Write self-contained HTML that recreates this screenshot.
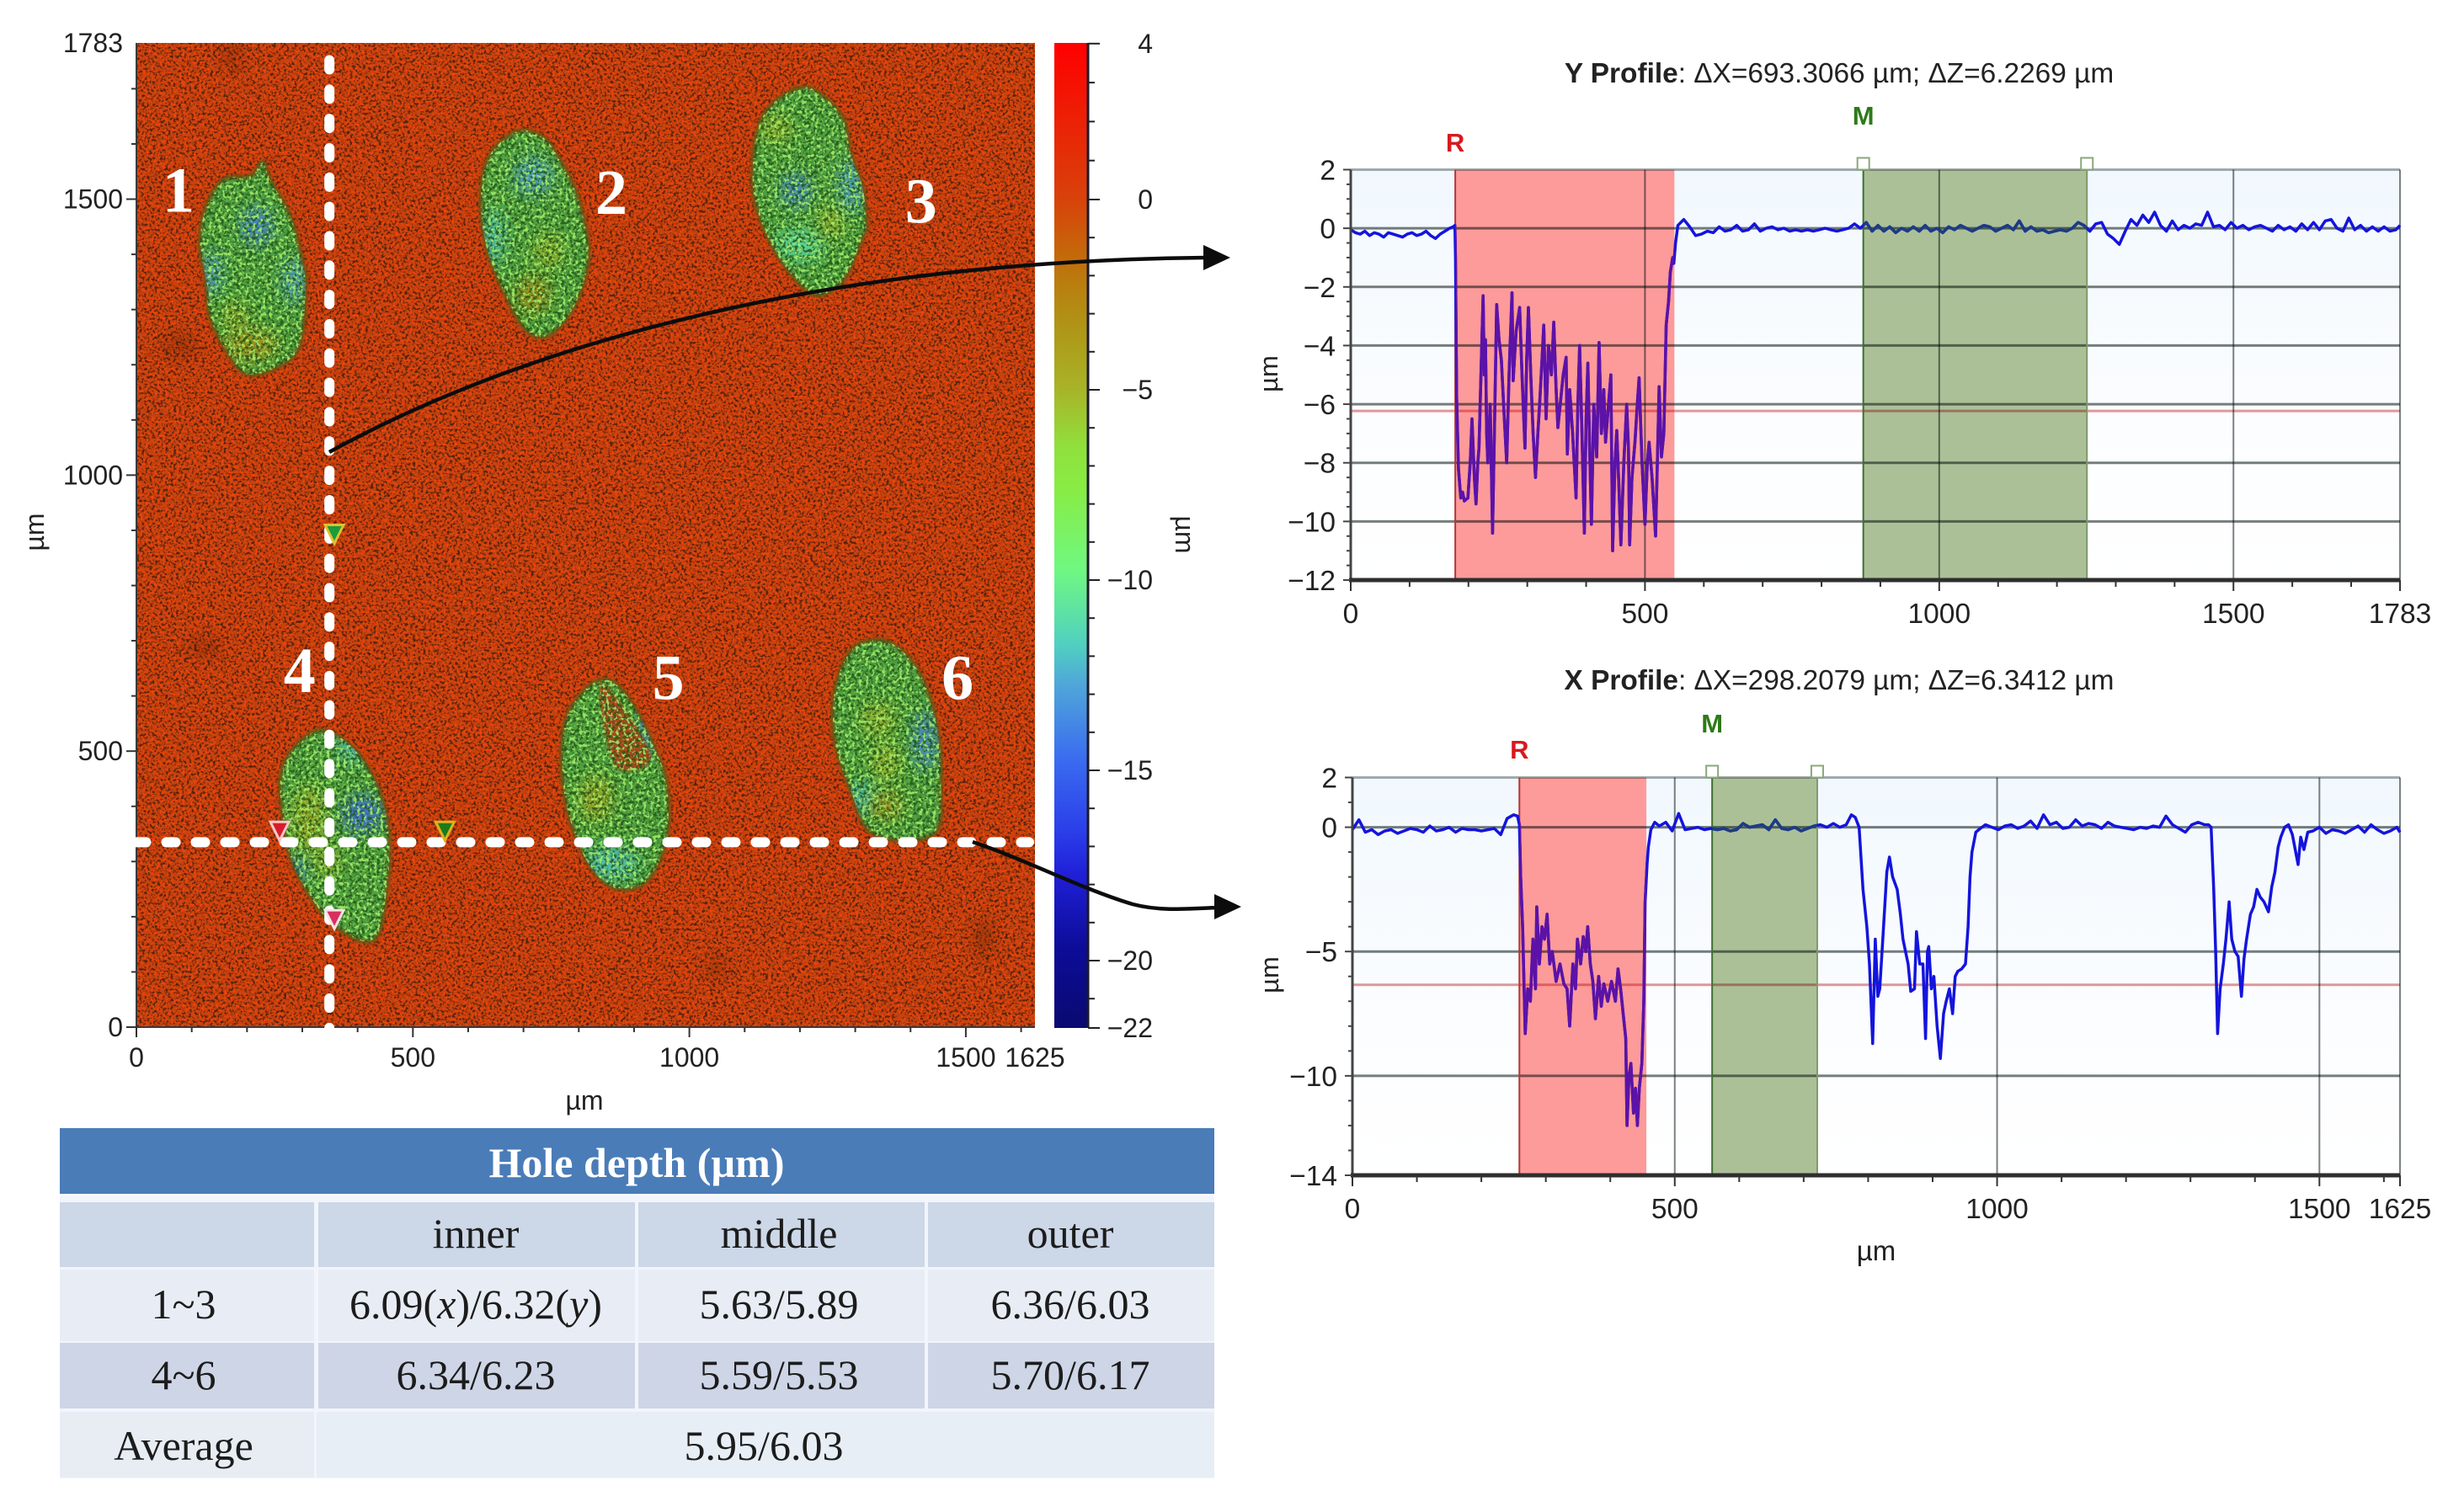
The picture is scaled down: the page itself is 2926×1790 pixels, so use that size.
<!DOCTYPE html>
<html lang="en">
<head>
<meta charset="utf-8">
<title>Hole depth profile</title>
<style>
html,body{margin:0;padding:0;background:#fff;}
svg{display:block;}
text{font-family:"Liberation Sans",sans-serif;fill:#222;}
.serif{font-family:"Liberation Serif",serif;}
.tbl{font-family:"Liberation Serif",serif;font-size:50px;fill:#1c1c1c;text-anchor:middle;dominant-baseline:central;}
</style>
</head>
<body>
<svg id="root" xmlns="http://www.w3.org/2000/svg" width="2926" height="1790" viewBox="0 0 2926 1790">
<defs id="defs">
<filter id="noise-dark" x="0" y="0" width="100%" height="100%" color-interpolation-filters="sRGB">
<feTurbulence type="fractalNoise" baseFrequency="0.32" numOctaves="2" seed="7"/>
<feColorMatrix values="0 0 0 0 0.33  0 0 0 0 0.13  0 0 0 0 0.05  6 0 0 0 -2.9"/>
</filter>
<filter id="noise-light" x="0" y="0" width="100%" height="100%" color-interpolation-filters="sRGB">
<feTurbulence type="fractalNoise" baseFrequency="0.3" numOctaves="2" seed="23"/>
<feColorMatrix values="0 0 0 0 0.93  0 0 0 0 0.27  0 0 0 0 0.04  0 5 0 0 -2.5"/>
</filter>
<filter id="noise-hole-light" x="0" y="0" width="100%" height="100%" color-interpolation-filters="sRGB">
<feTurbulence type="fractalNoise" baseFrequency="0.25" numOctaves="2" seed="41"/>
<feColorMatrix values="0 0 0 0 0.66  0 0 0 0 0.95  0 0 0 0 0.42  7 0 0 0 -3.7"/>
</filter>
<filter id="noise-hole-dark" x="0" y="0" width="100%" height="100%" color-interpolation-filters="sRGB">
<feTurbulence type="fractalNoise" baseFrequency="0.27" numOctaves="2" seed="11"/>
<feColorMatrix values="0 0 0 0 0.14  0 0 0 0 0.33  0 0 0 0 0.10  0 7 0 0 -3.3"/>
</filter>
<filter id="blur-patch" x="-60%" y="-60%" width="220%" height="220%"><feGaussianBlur stdDeviation="9"/></filter>
<filter id="blur-edge" x="-10%" y="-10%" width="120%" height="120%"><feGaussianBlur stdDeviation="1.6"/></filter>
<linearGradient id="plot-bg" x1="0" y1="0" x2="0" y2="1">
<stop offset="0" stop-color="#f1f8fe"/><stop offset="0.6" stop-color="#fbfdff"/><stop offset="1" stop-color="#ffffff"/>
</linearGradient>
<linearGradient id="colorbar-gradient" gradientUnits="userSpaceOnUse" x1="0" x2="0" y1="51" y2="1221"></linearGradient>
<clipPath id="holes-clip"></clipPath>
<clipPath id="map-clip"><rect x="162" y="51" width="1067" height="1169"/></clipPath>
</defs>

<g id="map"></g>
<g id="colorbar"></g>
<g id="yprofile"></g>
<g id="xprofile"></g>

<g>
<rect x="71" y="1420" width="1371" height="336" fill="#f2f5fb"/>
<rect x="71" y="1340" width="1371" height="78" fill="#4a7cb8"/>
<text class="tbl" x="756" y="1381" style="font-weight:bold;fill:#fff;">Hole depth (µm)</text>
<rect x="71" y="1428" width="302" height="77" fill="#ccd7e7"/>
<rect x="378" y="1428" width="376" height="77" fill="#ccd7e7"/>
<rect x="758" y="1428" width="340" height="77" fill="#ccd7e7"/>
<rect x="1102" y="1428" width="340" height="77" fill="#ccd7e7"/>
<rect x="71" y="1508" width="302" height="85" fill="#e8edf5"/>
<rect x="378" y="1508" width="376" height="85" fill="#e8edf5"/>
<rect x="758" y="1508" width="340" height="85" fill="#e8edf5"/>
<rect x="1102" y="1508" width="340" height="85" fill="#e8edf5"/>
<rect x="71" y="1595" width="302" height="78" fill="#ced5e6"/>
<rect x="378" y="1595" width="376" height="78" fill="#ced5e6"/>
<rect x="758" y="1595" width="340" height="78" fill="#ced5e6"/>
<rect x="1102" y="1595" width="340" height="78" fill="#ced5e6"/>
<rect x="71" y="1677" width="302" height="78" fill="#e8edf4"/>
<rect x="376" y="1677" width="1066" height="78" fill="#e8eef6"/>
<text class="tbl" x="565" y="1465">inner</text>
<text class="tbl" x="925" y="1465">middle</text>
<text class="tbl" x="1271" y="1465">outer</text>
<text class="tbl" x="218" y="1549">1~3</text>
<text class="tbl" x="565" y="1549">6.09(<tspan font-style="italic">x</tspan>)/6.32(<tspan font-style="italic">y</tspan>)</text>
<text class="tbl" x="925" y="1549">5.63/5.89</text>
<text class="tbl" x="1271" y="1549">6.36/6.03</text>
<text class="tbl" x="218" y="1633">4~6</text>
<text class="tbl" x="565" y="1633">6.34/6.23</text>
<text class="tbl" x="925" y="1633">5.59/5.53</text>
<text class="tbl" x="1271" y="1633">5.70/6.17</text>
<text class="tbl" x="218" y="1717">Average</text>
<text class="tbl" x="907" y="1717">5.95/6.03</text>
</g>

<g>
<path d="M391,537 C640,400 1000,310 1432,306" fill="none" stroke="#0c0c0c" stroke-width="4.5"/>
<polygon points="1461,306 1429,291 1429,321" fill="#0c0c0c"/>
<path d="M1155,1000 C1220,1022 1285,1056 1345,1074 C1375,1082 1405,1080 1445,1078" fill="none" stroke="#0c0c0c" stroke-width="4.5"/>
<polygon points="1474,1077 1442,1062 1442,1092" fill="#0c0c0c"/>
</g>
</svg>

<script>
/* ---------- height map data (µm) ---------- */
const mapXTicks = [0, 500, 1000, 1500, 1625];
const mapYTicks = [0, 500, 1000, 1500, 1783];
const holeOutline1 = [[228,1568],[207,1542],[157,1535],[125,1483],[115,1418],[125,1359],[133,1288],[164,1223],[200,1183],[257,1197],[295,1236],[306,1340],[299,1392],[278,1470],[242,1535]];
const holeOutline2 = [[689,1623],[640,1581],[623,1509],[632,1418],[661,1340],[700,1268],[739,1251],[781,1288],[810,1353],[817,1418],[796,1509],[760,1581],[732,1614]];
const holeOutline3 = [[1200,1702],[1150,1672],[1122,1620],[1115,1522],[1136,1444],[1178,1372],[1228,1327],[1278,1353],[1313,1431],[1320,1457],[1313,1522],[1292,1581],[1278,1646],[1235,1692]];
const holeOutline4 = [[335,538],[285,506],[261,454],[264,388],[278,310],[313,239],[363,180],[431,160],[455,271],[455,362],[434,441],[391,506]];
const holeOutline5 = [[845,630],[810,610],[777,558],[769,480],[781,388],[817,297],[866,252],[923,265],[959,343],[959,441],[937,506],[902,577],[873,616]];
const holeOutline6 = [[1334,701],[1292,682],[1263,610],[1263,519],[1292,428],[1334,349],[1441,349],[1455,441],[1448,545],[1419,636],[1377,688]];
/* patch: x µm, y µm, x radius µm, y radius µm, depth µm */
const holePatches = [
 [218,1451,28,34,-14],[136,1366,18,40,-13],[285,1353,20,40,-13],[207,1236,50,30,-3],[179,1288,22,24,-4],
 [717,1542,34,34,-13],[647,1431,18,50,-12],[717,1327,30,34,-2.5],[746,1405,26,30,-5],
 [1193,1516,26,30,-14],[1292,1522,20,50,-13],[1200,1418,44,30,-11],[1256,1457,22,30,-5],[1157,1627,28,24,-5],
 [408,386,36,34,-15],[291,287,18,20,-14],[312,377,30,60,-4.5],[345,300,24,24,-5],[390,505,24,28,-12],
 [831,414,30,40,-4],[859,297,50,30,-12],[923,532,14,40,-14],
 [1426,519,20,54,-14],[1355,480,26,34,-5],[1313,414,24,30,-12],[1355,401,30,26,-3],[1341,558,30,30,-5]
];
const notchOutline = [[845,623],[930,493],[873,467],[845,545]];
const surfacePatches = [[79,1236,32,24,-4.5],[1533,160,20,40,-5],[1051,108,22,22,-5],[172,1763,18,34,-4],[122,688,34,18,-4]];
const holeNumbers = ["1","2","3","4","5","6"];
const holeNumberX = [76,859,1419,295,962,1485];
const holeNumberY = [1477,1473,1457,607,594,594];
const cursorXum = 349;
const cursorYum = 335;
const markerX = [259,558,358,358];
const markerY = [355,355,893,195];
const markerColors = ["#d81c2c","#1c7c1c","#1c9c3c","#d83060"];
const markerOutlines = ["#f6c8c8","#e0b020","#e0c030","#f4e4e4"];

/* ---------- colorbar data ---------- */
const barTickValues = [4,0,-5,-10,-15,-20,-22];
const barLabels = ["4","0","−5","−10","−15","−20","−22"];
const scaleValues = [4,0,-1.2,-2.3,-3.6,-5,-6.5,-7.6,-9.7,-11.7,-12.7,-14.7,-16.7,-17.7,-19.7,-22];
const scaleColors = ["#ff0000","#d8420a","#c8620a","#b8800f","#ae9a18","#a8b428","#90e03c","#88ec44","#70f880","#50d0c0","#50a8d8","#3a6cf0","#2a3ce8","#2020d8","#0c0c98","#0a0a70"];

/* ---------- Y profile data ---------- */
const yProfileTitle = "Y Profile";
const yProfileReadout = ": ΔX=693.3066 µm; ΔZ=6.2269 µm";
const yProfileYTicks = [2,0,-2,-4,-6,-8,-10,-12];
const yProfileXTicks = [0,500,1000,1500,1783];
const yProfileRef = [177.6,550];
const yProfileMeas = [871,1251];
const yProfileLevel = -6.23;
const yProfileX = [
 0,8,16,24,32,40,48,56,64,72,
 80,88,96,104,112,120,128,136,144,152,
 160,168,174,177,178,180,183,187,190,193,
 199,203,206,210,213,216,218,222,225,227,
 229,231,233,237,241,245,248,252,256,261,
 265,269,274,276,281,287,291,296,299,302,
 306,310,314,318,321,325,328,332,336,341,
 345,349,352,356,361,366,368,372,377,383,
 386,389,393,397,400,403,406,409,413,418,
 422,426,430,433,438,442,445,449,452,456,
 459,464,469,472,474,478,483,487,490,495,
 500,504,507,512,518,521,524,528,532,536,
 540,543,547,549,552,
 556,566,576,586,596,606,616,626,636,646,
 656,666,676,686,696,706,716,726,736,746,
 756,766,776,786,796,806,816,826,836,846,
 856,866,876,886,896,906,916,926,936,946,
 956,966,976,986,996,1006,1016,1026,1036,1046,
 1056,1066,1076,1086,1096,1106,1116,1126,1136,1146,
 1156,1166,1176,1186,1196,1206,1216,1226,1236,1246,
 1256,1266,1276,1286,1296,1306,1316,1326,1336,1346,
 1356,1366,1376,1386,1396,1406,1416,1426,1436,1446,
 1456,1466,1476,1486,1496,1506,1516,1526,1536,1546,
 1556,1566,1576,1586,1596,1606,1616,1626,1636,1646,
 1656,1666,1676,1686,1696,1706,1716,1726,1736,1746,
 1756,1766,1776,1783
];
const yProfileZ = [
 -0.05,-0.15,-0.2,-0.1,-0.25,-0.15,-0.2,-0.3,-0.15,-0.2,
 -0.25,-0.3,-0.2,-0.15,-0.25,-0.2,-0.1,-0.25,-0.35,-0.2,
 -0.1,0,0.05,0.1,-1,-5.8,-8.2,-9.2,-9,-9.3,
 -9.2,-8,-6.5,-8.5,-9.4,-8,-7.5,-4.5,-2.3,-5,
 -3.8,-7,-8,-6,-10.4,-6,-2.6,-3.8,-4.5,-6.5,
 -8,-5,-2.2,-5.2,-3.5,-2.7,-5,-7.5,-4.5,-2.7,
 -5,-7,-8.5,-7,-6,-4.5,-3.3,-6.5,-4,-5,
 -3.2,-5.5,-6.8,-6,-5,-4.4,-7.7,-5.5,-7,-9.2,
 -6,-4,-7,-10.4,-6.5,-4.6,-7.5,-10.1,-6,-7.8,
 -3.9,-7,-5.5,-7.3,-6,-5,-11,-8,-6.9,-9,
 -10.8,-8,-6,-7.5,-10.8,-8.5,-7.3,-6,-5.1,-8,
 -10.1,-8,-7.3,-8.5,-10.5,-8,-5.4,-7.8,-7,-3.3,
 -2.5,-1.5,-1,-1.2,-0.5,
 0.1,0.3,0.05,-0.25,-0.2,-0.1,-0.15,0.05,-0.1,-0.05,
 0.1,-0.1,-0.05,0.15,-0.1,0,0.05,-0.05,0,-0.1,
 -0.05,-0.1,-0.05,-0.1,-0.05,0,-0.05,-0.1,-0.05,0,
 0.15,0,0.2,-0.1,0.1,-0.1,0.05,-0.15,0,-0.1,
 0.05,-0.1,0.1,-0.1,0,-0.15,0.05,-0.05,0.1,0,
 -0.1,0,0.1,0.05,-0.1,0,0.1,-0.05,0.25,-0.1,
 0.05,-0.1,-0.05,-0.15,-0.1,-0.05,-0.1,0,0.2,0.1,
 -0.1,0.15,0.2,-0.2,-0.35,-0.55,-0.1,0.3,0.1,0.45,
 0.2,0.55,0.1,-0.1,0.25,-0.05,0.1,0,0.15,0.1,
 0.55,0.05,0.1,-0.05,0.2,0,0.1,-0.05,0.05,0.1,
 0,-0.1,0.1,-0.05,0.05,-0.1,0.15,-0.05,0.2,-0.05,
 0.25,0.3,0,-0.1,0.35,-0.05,0.1,-0.1,0.05,-0.1,
 0.05,-0.1,-0.05,0.1
];

/* ---------- X profile data ---------- */
const xProfileTitle = "X Profile";
const xProfileReadout = ": ΔX=298.2079 µm; ΔZ=6.3412 µm";
const xProfileYTicks = [2,0,-5,-10,-14];
const xProfileXTicks = [0,500,1000,1500,1625];
const xProfileRef = [259,456];
const xProfileMeas = [558,721];
const xProfileLevel = -6.34;
const xProfileX = [
 0,10,20,30,40,50,60,70,80,90,
 100,110,120,130,140,150,160,170,180,190,
 200,210,220,230,240,250,256,259,
 261,264,268,272,276,280,284,286,290,294,
 298,302,306,310,316,322,328,333,337,342,
 346,349,354,358,362,365,369,373,377,382,
 386,390,396,402,408,412,416,420,424,426,
 429,432,436,439,442,445,449,452,454,457,
 459,463,469,
 476,486,496,506,516,526,536,546,556,566,
 576,586,596,606,616,626,636,646,656,666,
 676,686,696,706,716,726,736,746,756,766,
 774,780,786,792,798,802,807,811,815,818,
 822,825,829,833,838,845,850,854,858,862,
 866,872,875,880,885,889,892,894,898,902,
 907,912,917,921,926,931,935,939,945,951,
 955,958,961,967,974,
 982,992,1002,1012,1022,1032,1042,1052,1062,1072,
 1082,1092,1102,1112,1122,1132,1142,1152,1162,1172,
 1182,1192,1202,1212,1222,1232,1242,1252,1262,1272,
 1282,1292,1302,1312,1322,
 1328,1332,1336,1339,1342,1346,1351,1355,1360,1364,
 1369,1374,1379,1383,1387,1393,1398,1403,1408,1414,
 1421,1426,1431,1436,1440,1446,1452,1458,1467,1471,
 1476,1482,
 1490,1500,1510,1520,1530,1540,1550,1560,1570,1580,
 1590,1600,1610,1620,1625
];
const xProfileZ = [
 -0.1,0.3,-0.2,-0.1,-0.3,-0.15,-0.1,-0.25,-0.15,-0.05,
 -0.1,-0.2,0.05,-0.15,-0.1,0,-0.2,-0.05,-0.1,-0.1,
 -0.15,-0.1,-0.05,-0.3,0.35,0.5,0.45,0.1,
 -2,-4,-8.3,-6.5,-7,-4.5,-6.5,-3.2,-5.5,-4,
 -4.5,-3.5,-5.5,-5,-6.2,-5.5,-6.3,-6.5,-8,-5.5,
 -6.5,-4.5,-5.5,-4.4,-5,-4,-5.5,-6.2,-7.7,-6,
 -7.2,-6.3,-7,-6.2,-7,-5.7,-6.5,-7.5,-8.5,-12,
 -10,-9.5,-11.5,-10.5,-12,-10.5,-9.5,-7,-3,-1.5,
 -0.8,-0.1,0.2,
 0.05,0.2,-0.15,0.55,-0.1,-0.05,0,-0.1,-0.05,-0.1,
 -0.05,-0.15,-0.1,0.15,0,0.05,0.1,-0.1,0.3,-0.05,
 -0.1,0,-0.15,-0.05,0.05,0.1,0,0.15,0,0.1,
 0.5,0.4,0,-2.5,-4,-5.5,-8.7,-4.5,-6.8,-6.5,
 -4.8,-3.5,-1.8,-1.2,-2,-2.5,-3.5,-4.5,-5,-5.5,
 -6.6,-6.5,-4.2,-5.5,-5.5,-8.5,-5,-4.8,-6.5,-6,
 -8,-9.3,-7.5,-7,-6.5,-7.5,-6,-5.8,-5.7,-5.5,
 -4,-2,-1,-0.2,-0.05,
 0.1,0,-0.1,0.05,0.1,-0.05,0.05,0.25,-0.05,0.5,
 0.1,0.2,-0.05,0,0.3,0.05,0.15,0.1,-0.05,0.2,
 0.05,0,-0.05,-0.1,0,-0.05,0.05,0,0.45,0.1,
 -0.05,-0.2,0.1,0.2,0.1,
 0.1,0,-2.5,-5,-8.3,-6.5,-5.5,-4.5,-3,-4.5,
 -5,-5.2,-6.8,-5.3,-4.5,-3.5,-3.2,-2.5,-2.8,-3,
 -3.4,-2.4,-1.8,-0.8,-0.4,0,0.1,-0.3,-1.5,-0.4,
 -0.9,-0.2,
 -0.15,0,-0.25,-0.1,-0.15,-0.25,-0.1,0.05,-0.2,0.1,
 -0.1,-0.25,-0.15,0,-0.2
];

/* ---------- helpers ---------- */
const NS = "http://www.w3.org/2000/svg";
function mk(parent, tag, attrs, txt){
  const el = document.createElementNS(NS, tag);
  for (const k in attrs) el.setAttribute(k, attrs[k]);
  if (txt !== undefined) el.textContent = txt;
  parent.appendChild(el);
  return el;
}
function hexToRgb(h){return [parseInt(h.slice(1,3),16),parseInt(h.slice(3,5),16),parseInt(h.slice(5,7),16)];}
function colorScale(v){
  if (v >= scaleValues[0]) return scaleColors[0];
  for (let i = 1; i < scaleValues.length; i++){
    if (v >= scaleValues[i]){
      const t = (scaleValues[i-1]-v)/(scaleValues[i-1]-scaleValues[i]);
      const a = hexToRgb(scaleColors[i-1]), b = hexToRgb(scaleColors[i]);
      return "rgb("+a.map((c,j)=>Math.round(c+(b[j]-c)*t)).join(",")+")";
    }
  }
  return scaleColors[scaleColors.length-1];
}
function smoothPath(pts){
  const n = pts.length;
  let d = "M"+pts[0][0].toFixed(1)+","+pts[0][1].toFixed(1);
  for (let i = 0; i < n; i++){
    const p0=pts[(i-1+n)%n],p1=pts[i],p2=pts[(i+1)%n],p3=pts[(i+2)%n];
    const c1=[p1[0]+(p2[0]-p0[0])/6,p1[1]+(p2[1]-p0[1])/6];
    const c2=[p2[0]-(p3[0]-p1[0])/6,p2[1]-(p3[1]-p1[1])/6];
    d+="C"+c1[0].toFixed(1)+","+c1[1].toFixed(1)+" "+c2[0].toFixed(1)+","+c2[1].toFixed(1)+" "+p2[0].toFixed(1)+","+p2[1].toFixed(1);
  }
  return d+"Z";
}

/* ---------- height map ---------- */
const mapLeft=162, mapRight=1229, mapTop=51, mapBottom=1220;
const mapX = v => mapLeft + v*(mapRight-mapLeft)/1625;
const mapY = v => mapBottom - v*(mapBottom-mapTop)/1783;
const mapRoot = document.getElementById("map");
const toMap = outline => outline.map(p=>[mapX(p[0]),mapY(p[1])]);

const mapBg = mk(mapRoot,"rect",{x:mapLeft,y:mapTop,width:mapRight-mapLeft,height:mapBottom-mapTop,fill:"#c8420e"});



const noiseA = mk(mapRoot,"rect",{x:mapLeft,y:mapTop,width:mapRight-mapLeft,height:mapBottom-mapTop,filter:"url(#noise-dark)"});


const noiseB = mk(mapRoot,"rect",{x:mapLeft,y:mapTop,width:mapRight-mapLeft,height:mapBottom-mapTop,filter:"url(#noise-light)"});



const surfaceLayer = mk(mapRoot,"g",{"clip-path":"url(#map-clip)",style:"mix-blend-mode:multiply"});


surfacePatches.forEach(p=>{
  const e = mk(surfaceLayer,"ellipse",{cx:mapX(p[0]),cy:mapY(p[1]),rx:p[2]*0.66,ry:p[3]*0.66,fill:colorScale(p[4]),opacity:0.5,filter:"url(#blur-patch)"});
  
  
});

const holeOutlines = [holeOutline1,holeOutline2,holeOutline3,holeOutline4,holeOutline5,holeOutline6];
const clip = document.getElementById("holes-clip");
holeOutlines.forEach((o,i)=>{
  const d = smoothPath(toMap(o));
  mk(clip,"path",{d:d});
  const h = mk(mapRoot,"path",{d:d,fill:"#4fa040",stroke:"#6d5414","stroke-width":5,filter:"url(#blur-edge)"});
  
  
});
const patchLayer = mk(mapRoot,"g",{"clip-path":"url(#holes-clip)"});


holePatches.forEach(p=>{
  const e = mk(patchLayer,"ellipse",{cx:mapX(p[0]),cy:mapY(p[1]),rx:p[2]*0.66,ry:p[3]*0.66,fill:colorScale(p[4]),opacity:0.8,filter:"url(#blur-patch)"});
  
  
});
const notch = mk(patchLayer,"path",{d:smoothPath(toMap(notchOutline)),fill:"#a8481a",filter:"url(#blur-edge)"});


const holeNoiseA = mk(patchLayer,"rect",{x:mapLeft,y:mapTop,width:mapRight-mapLeft,height:mapBottom-mapTop,filter:"url(#noise-hole-dark)",opacity:0.85});


const holeNoiseB = mk(patchLayer,"rect",{x:mapLeft,y:mapTop,width:mapRight-mapLeft,height:mapBottom-mapTop,filter:"url(#noise-hole-light)",opacity:0.85});



/* map axes */
const mapAxisL = mk(mapRoot,"line",{x1:mapLeft,y1:mapTop,x2:mapLeft,y2:mapBottom,stroke:"#3a3a3a","stroke-width":2});


const mapAxisB = mk(mapRoot,"line",{x1:mapLeft,y1:mapBottom,x2:mapRight,y2:mapBottom,stroke:"#3a3a3a","stroke-width":2});


for (let v=0; v<=1700; v+=100){
  const t = mk(mapRoot,"line",{x1:mapLeft-(v%500?6:12),y1:mapY(v),x2:mapLeft,y2:mapY(v),stroke:"#333","stroke-width":2});
  
  
}
for (let v=0; v<=1600; v+=100){
  const t = mk(mapRoot,"line",{x1:mapX(v),y1:mapBottom,x2:mapX(v),y2:mapBottom+(v%500?6:12),stroke:"#333","stroke-width":2});
  
  
}
mapYTicks.forEach(v=>{
  const t = mk(mapRoot,"text",{x:146,y:mapY(v)+11,"font-size":32,"text-anchor":"end"},String(v));
  
  
});
mapXTicks.forEach(v=>{
  const t = mk(mapRoot,"text",{x:mapX(v),y:1267,"font-size":32,"text-anchor":"middle"},String(v));
  
  
});
const mapXT = mk(mapRoot,"text",{x:694,y:1318,"font-size":32,"text-anchor":"middle"},"µm");


const mapYT = mk(mapRoot,"text",{x:0,y:0,"font-size":32,"text-anchor":"middle",transform:"translate(52,632) rotate(-90)"},"µm");



/* cursor lines */
const curV = mk(mapRoot,"line",{x1:mapX(cursorXum),y1:71.5,x2:mapX(cursorXum),y2:1222,stroke:"#fff","stroke-width":12,"stroke-linecap":"round","stroke-dasharray":"11 23.83"});


const curH = mk(mapRoot,"line",{x1:162.5,y1:mapY(cursorYum),x2:1222,y2:mapY(cursorYum),stroke:"#fff","stroke-width":12,"stroke-linecap":"round","stroke-dasharray":"11 24"});



markerX.forEach((mx,i)=>{
  const cx=mapX(mx), cy=mapY(markerY[i]);
  const m = mk(mapRoot,"polygon",{points:(cx-11)+","+(cy-11)+" "+(cx+11)+","+(cy-11)+" "+cx+","+(cy+11),fill:markerColors[i],stroke:markerOutlines[i],"stroke-width":3});
  
  
});

holeNumbers.forEach((n,i)=>{
  const t = mk(mapRoot,"text",{class:"serif",x:mapX(holeNumberX[i]),y:mapY(holeNumberY[i]),"font-size":76,"font-weight":"bold","text-anchor":"middle",style:"fill:#fff;font-family:'Liberation Serif',serif"},n);
  
  
});

/* ---------- colorbar ---------- */
const barRoot = document.getElementById("colorbar");
const barY = v => v>=0 ? Math.max(51,237-46.3*v) : Math.min(1221,237-45.2*v);
const grad = document.getElementById("colorbar-gradient");
scaleValues.forEach((v,i)=>{
  mk(grad,"stop",{offset:((barY(v)-51)/1170).toFixed(4),"stop-color":scaleColors[i]});
});
const barRect = mk(barRoot,"rect",{x:1252,y:51,width:40,height:1170,fill:"url(#colorbar-gradient)"});


const barLine = mk(barRoot,"line",{x1:1292,y1:51,x2:1292,y2:1221,stroke:"#1a1a2a","stroke-width":3});


for (let v=4; v>=-22; v--){
  const major = barTickValues.indexOf(v)>=0;
  const t = mk(barRoot,"line",{x1:1292,y1:barY(v),x2:1292+(major?14:8),y2:barY(v),stroke:"#222","stroke-width":2});
  
  
}
barTickValues.forEach((v,i)=>{
  const t = mk(barRoot,"text",{x:1369,y:barY(v)+11,"font-size":32,"text-anchor":"end"},barLabels[i]);
  
  
});
const barTitle = mk(barRoot,"text",{x:0,y:0,"font-size":32,"text-anchor":"middle",transform:"translate(1396,635) rotate(90)"},"µm");



/* ---------- profile chart ---------- */
function drawProfile(cfg){
  const g = document.getElementById(cfg.id);
  const defs = document.getElementById("defs");
  const X = v => cfg.left + (v-0)*(cfg.right-cfg.left)/cfg.xMax;
  const Y = v => cfg.top + (cfg.zMax-v)*(cfg.bottom-cfg.top)/(cfg.zMax-cfg.zMin);
  const w = cfg.right-cfg.left, h = cfg.bottom-cfg.top;

  const bg = mk(g,"rect",{x:cfg.left,y:cfg.top,width:w,height:h,fill:"url(#plot-bg)"});
  
  

  const rBand = mk(g,"rect",{x:X(cfg.ref[0]),y:cfg.top,width:X(cfg.ref[1])-X(cfg.ref[0]),height:h,fill:"#fd9a9a"});
  
  
  const mBand = mk(g,"rect",{x:X(cfg.meas[0]),y:cfg.top,width:X(cfg.meas[1])-X(cfg.meas[0]),height:h,fill:"#acc098"});
  
  

  cfg.xTicks.forEach(v=>{
    const l = mk(g,"line",{x1:X(v),y1:cfg.top,x2:X(v),y2:cfg.bottom,stroke:"#7c8284","stroke-width":2,style:"mix-blend-mode:multiply"});
    
    
  });
  cfg.yTicks.forEach(v=>{
    if (v===cfg.zMin) return;
    const l = mk(g,"line",{x1:cfg.left,y1:Y(v),x2:cfg.right,y2:Y(v),stroke:v===cfg.zMax?"#a4acac":"#767e7c","stroke-width":3,style:"mix-blend-mode:multiply"});
    
    
  });

  const levelLine = mk(g,"line",{x1:cfg.left,y1:Y(cfg.level),x2:cfg.right,y2:Y(cfg.level),stroke:"#e2999b","stroke-width":3,style:"mix-blend-mode:multiply"});
  
  

  const rEdge = mk(g,"line",{x1:X(cfg.ref[0]),y1:cfg.top,x2:X(cfg.ref[0]),y2:cfg.bottom,stroke:"#b03838","stroke-width":2});
  
  
  const mEdge = mk(g,"line",{x1:X(cfg.meas[0]),y1:cfg.top,x2:X(cfg.meas[0]),y2:cfg.bottom,stroke:"#3f6f2f","stroke-width":2});
  
  
  const mEdge2 = mk(g,"line",{x1:X(cfg.meas[1]),y1:cfg.top,x2:X(cfg.meas[1]),y2:cfg.bottom,stroke:"#7f9a6a","stroke-width":2});
  
  

  const pts = cfg.xs.map((x,i)=>X(x).toFixed(1)+","+Y(cfg.zs[i]).toFixed(1)).join(" ");
  const line = mk(g,"polyline",{points:pts,fill:"none",stroke:"#1414dc","stroke-width":3.5,"stroke-linejoin":"round"});
  
  

  const rClip = mk(defs,"clipPath",{id:cfg.id+"-ref-clip"});
  mk(rClip,"rect",{x:X(cfg.ref[0]),y:cfg.top,width:X(cfg.ref[1])-X(cfg.ref[0]),height:h});
  const mClip = mk(defs,"clipPath",{id:cfg.id+"-meas-clip"});
  mk(mClip,"rect",{x:X(cfg.meas[0]),y:cfg.top,width:X(cfg.meas[1])-X(cfg.meas[0]),height:h});
  const lineRef = mk(g,"polyline",{points:pts,fill:"none",stroke:"#5c12a6","stroke-width":3.5,"stroke-linejoin":"round","clip-path":"url(#"+cfg.id+"-ref-clip)"});
  
  
  const lineMeas = mk(g,"polyline",{points:pts,fill:"none",stroke:"#1c3c84","stroke-width":3.5,"stroke-linejoin":"round","clip-path":"url(#"+cfg.id+"-meas-clip)"});
  
  

  cfg.meas.forEach(v=>{
    const hnd = mk(g,"rect",{x:X(v)-7,y:cfg.top-14,width:14,height:14,fill:"#fff",stroke:"#8aa87a","stroke-width":2});
    
    
  });

  const yAxis = mk(g,"line",{x1:cfg.left,y1:cfg.top,x2:cfg.left,y2:cfg.bottom,stroke:"#444","stroke-width":3});
  
  
  const xAxis = mk(g,"line",{x1:cfg.left-2,y1:cfg.bottom,x2:cfg.right,y2:cfg.bottom,stroke:"#2e2e2e","stroke-width":5});
  
  

  for (let v=cfg.zMin; v<=cfg.zMax+1e-6; v+=cfg.minorZ){
    const t = mk(g,"line",{x1:cfg.left-(cfg.yTicks.indexOf(v)>=0?9:5),y1:Y(v),x2:cfg.left,y2:Y(v),stroke:"#444","stroke-width":2});
    
    
  }
  for (let v=0; v<=cfg.xMax; v+=100){
    const t = mk(g,"line",{x1:X(v),y1:cfg.bottom,x2:X(v),y2:cfg.bottom+(v%500?8:13),stroke:"#333","stroke-width":2});
    
    
  }
  const endTick = mk(g,"line",{x1:cfg.right,y1:cfg.bottom,x2:cfg.right,y2:cfg.bottom+13,stroke:"#333","stroke-width":2});
  
  

  cfg.yTicks.forEach(v=>{
    const t = mk(g,"text",{x:cfg.left-18,y:Y(v)+12,"font-size":33.5,"text-anchor":"end"},(v<0?"−":"")+Math.abs(v));
    
    
  });
  cfg.xTicks.forEach(v=>{
    const t = mk(g,"text",{x:X(v),y:cfg.xLabelY,"font-size":33.5,"text-anchor":"middle"},String(v));
    
    
  });

  const title = mk(g,"text",{x:2184,y:cfg.titleY,"font-size":33.4,"text-anchor":"middle"});
  
  
  mk(title,"tspan",{"font-weight":"bold"},cfg.title);
  mk(title,"tspan",{},cfg.readout);

  const rL = mk(g,"text",{x:X(cfg.ref[0]),y:cfg.rLabelY,"font-size":31,"font-weight":"bold","text-anchor":"middle",style:"fill:#d8191f"},"R");
  
  
  const mL = mk(g,"text",{x:X(cfg.meas[0]),y:cfg.mLabelY,"font-size":31,"font-weight":"bold","text-anchor":"middle",style:"fill:#2d7a18"},"M");
  
  

  const yT = mk(g,"text",{x:0,y:0,"font-size":31,"text-anchor":"middle",transform:"translate("+cfg.yTitleX+","+cfg.yTitleY+") rotate(-90)"},"µm");
  
  
  if (cfg.xTitleY){
    const xT = mk(g,"text",{x:2228,y:cfg.xTitleY,"font-size":33,"text-anchor":"middle"},"µm");
    
    
  }
}

drawProfile({id:"yprofile",lineName:"y-profile-line",left:1604,right:2850,top:201.5,bottom:689,xMax:1783,zMax:2,zMin:-12,minorZ:0.5,
  xs:yProfileX,zs:yProfileZ,xTicks:yProfileXTicks,yTicks:yProfileYTicks,ref:yProfileRef,meas:yProfileMeas,level:yProfileLevel,
  title:yProfileTitle,readout:yProfileReadout,titleY:98,rLabelY:180,mLabelY:148,xLabelY:740,yTitleX:1517,yTitleY:444});
drawProfile({id:"xprofile",lineName:"x-profile-line",left:1606,right:2850,top:923.5,bottom:1396,xMax:1625,zMax:2,zMin:-14,minorZ:1,
  xs:xProfileX,zs:xProfileZ,xTicks:xProfileXTicks,yTicks:xProfileYTicks,ref:xProfileRef,meas:xProfileMeas,level:xProfileLevel,
  title:xProfileTitle,readout:xProfileReadout,titleY:819,rLabelY:901,mLabelY:870,xLabelY:1447,yTitleX:1518,yTitleY:1158,xTitleY:1497});
</script>
</body>
</html>
